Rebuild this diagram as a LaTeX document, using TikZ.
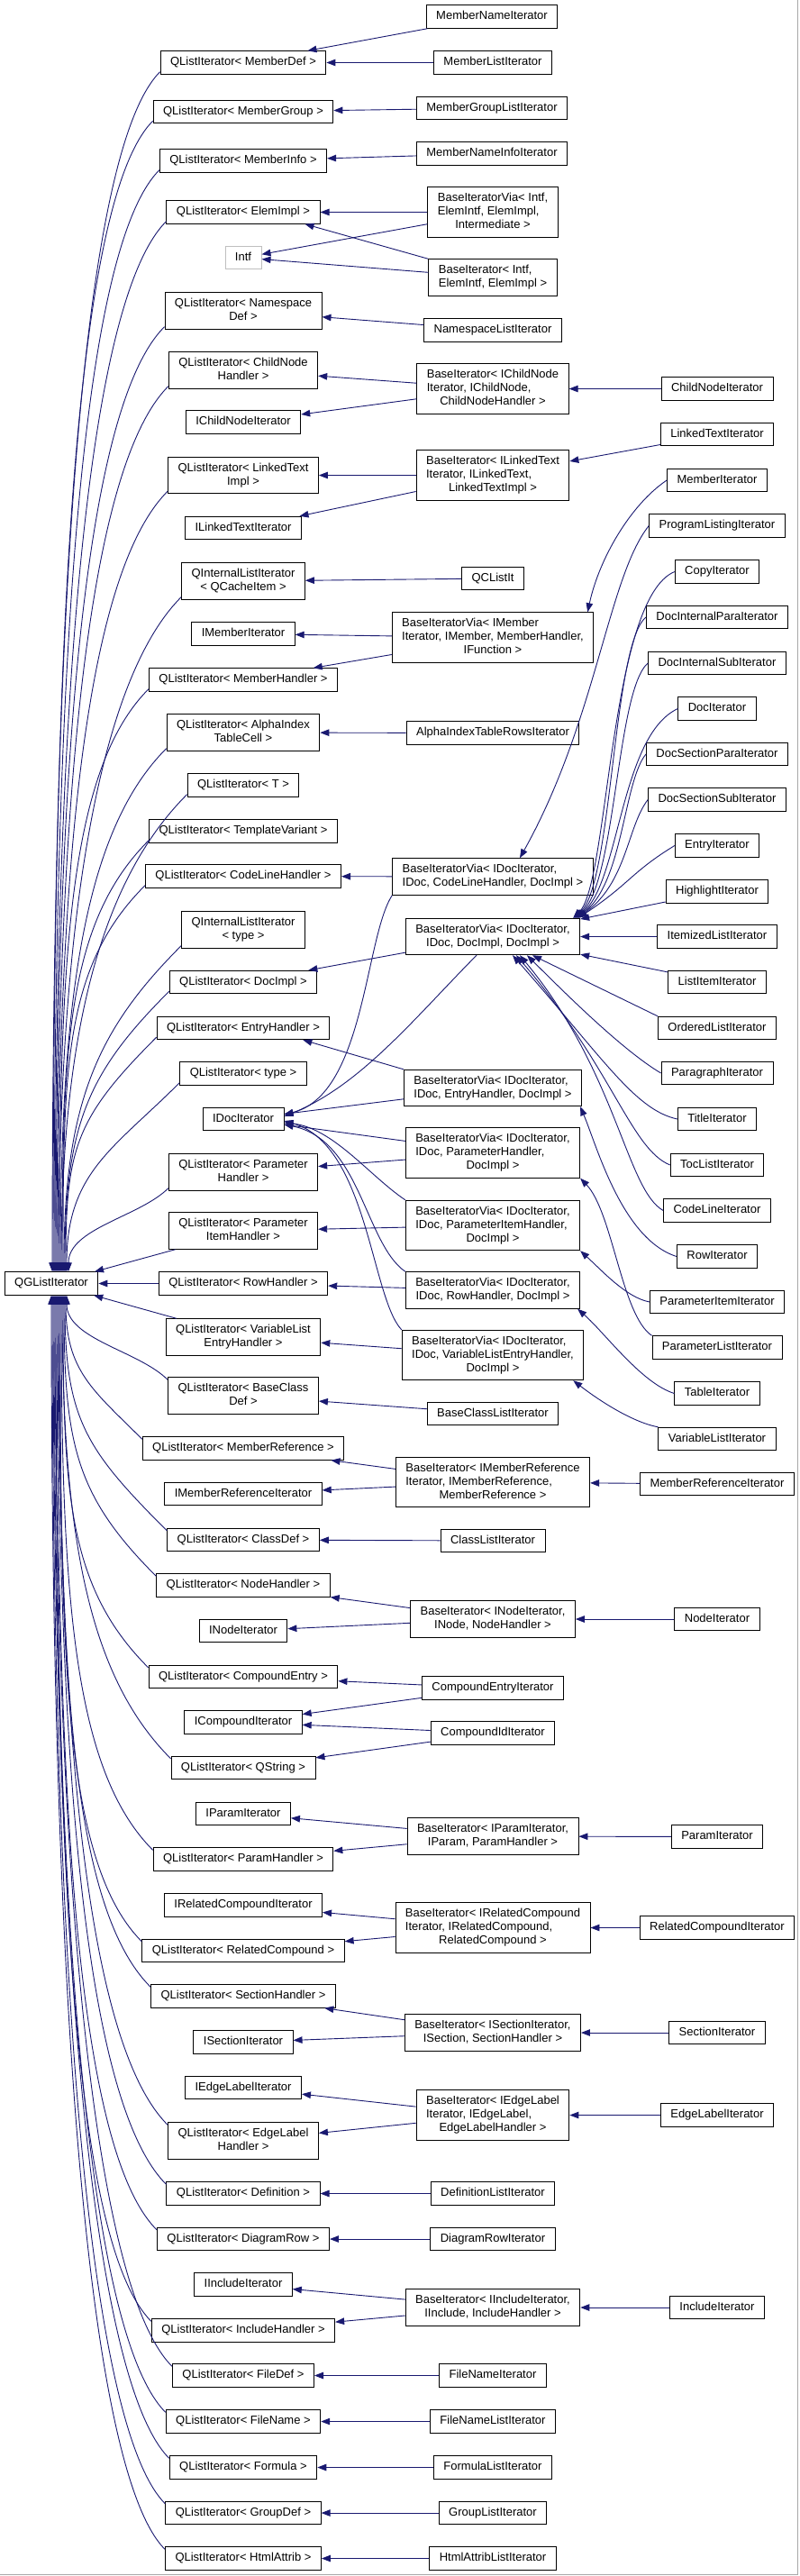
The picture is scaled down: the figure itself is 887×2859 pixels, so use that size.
\documentclass[tikz,border=0pt]{standalone}
\usepackage{fontspec}
\setmainfont{Liberation Sans}
\usepackage{xcolor}
\usepackage{tikz}
\usetikzlibrary{arrows.meta,calc}
\definecolor{EDGE}{HTML}{191970}
\definecolor{GHOST}{HTML}{BFBFBF}
\definecolor{FRAME}{HTML}{A8A8A8}

% wrapped label: first lines flush left, last line centred
\newcommand\wrapl[2]{\begin{tabular}{@{}l@{}}#1\\\multicolumn{1}{@{}c@{}}{#2}\end{tabular}}

\begin{document}
\begin{tikzpicture}[
  x=1pt, y=1pt,
  font=\fontsize{13}{15}\selectfont,
  box/.style={draw=black, line width=0.9pt, fill=white, inner xsep=11pt, inner ysep=5.25pt},
  cls/.style={box, text height=10.5pt, text depth=4.5pt},
  clsm/.style={box},
  ghost/.style={cls, draw=GHOST},
  edge/.style={draw=EDGE, line width=0.9pt, -{Triangle[length=10pt, width=7.5pt]}},
]
\useasboundingbox (0,0) rectangle (887,-2859);
\draw[FRAME, line width=1.5pt] (885.5,0) -- (885.5,-2857.5) -- (0,-2857.5);

% root
\node[cls] (qg) at (57,-1424.5) {QGListIterator};

% first column: list templates and interfaces
\node[cls] (qMemberDef) at (270,-69.5) {QListIterator< MemberDef >};
\node[cls] (qMemberGroup) at (270,-124) {QListIterator< MemberGroup >};
\node[cls] (qMemberInfo) at (270,-178.5) {QListIterator< MemberInfo >};
\node[cls] (qElemImpl) at (270,-235.5) {QListIterator< ElemImpl >};
\node[ghost] (intf) at (270,-286) {Intf};
\node[clsm] (qNamespace) at (270,-345) {\wrapl{QListIterator< Namespace}{Def >}};
\node[clsm] (qChildNode) at (270,-411) {\wrapl{QListIterator< ChildNode}{Handler >}};
\node[cls] (iChildNode) at (270,-468.5) {IChildNodeIterator};
\node[clsm] (qLinkedText) at (270,-527.5) {\wrapl{QListIterator< LinkedText}{Impl >}};
\node[cls] (iLinkedText) at (270,-586) {ILinkedTextIterator};
\node[clsm] (qiCache) at (270,-645) {\wrapl{QInternalListIterator}{< QCacheItem >}};
\node[cls] (iMember) at (270,-703.5) {IMemberIterator};
\node[cls] (qMemberHandler) at (270,-754.5) {QListIterator< MemberHandler >};
\node[clsm] (qAlpha) at (270,-813) {\wrapl{QListIterator< AlphaIndex}{TableCell >}};
\node[cls] (qT) at (270,-871.5) {QListIterator< T >};
\node[cls] (qTemplate) at (270,-922.5) {QListIterator< TemplateVariant >};
\node[cls] (qCodeLine) at (270,-972.5) {QListIterator< CodeLineHandler >};
\node[clsm] (qiType) at (270,-1032) {\wrapl{QInternalListIterator}{< type >}};
\node[cls] (qDocImpl) at (270,-1090) {QListIterator< DocImpl >};
\node[cls] (qEntry) at (270,-1141) {QListIterator< EntryHandler >};
\node[cls] (qType) at (270,-1191.5) {QListIterator< type >};
\node[cls] (iDoc) at (270,-1242) {IDocIterator};
\node[clsm] (qParam) at (270,-1301) {\wrapl{QListIterator< Parameter}{Handler >}};
\node[clsm] (qParamItem) at (270,-1366) {\wrapl{QListIterator< Parameter}{ItemHandler >}};
\node[cls] (qRow) at (270,-1424.5) {QListIterator< RowHandler >};
\node[clsm] (qVarList) at (270,-1484) {\wrapl{QListIterator< VariableList}{EntryHandler >}};
\node[clsm] (qBaseClass) at (270,-1549) {\wrapl{QListIterator< BaseClass}{Def >}};
\node[cls] (qMemberRef) at (270,-1607.5) {QListIterator< MemberReference >};
\node[cls] (iMemberRef) at (270,-1658) {IMemberReferenceIterator};
\node[cls] (qClassDef) at (270,-1709) {QListIterator< ClassDef >};
\node[cls] (qNodeHandler) at (270,-1759.5) {QListIterator< NodeHandler >};
\node[cls] (iNode) at (270,-1810) {INodeIterator};
\node[cls] (qCompound) at (270,-1861) {QListIterator< CompoundEntry >};
\node[cls] (iCompound) at (270,-1911.5) {ICompoundIterator};
\node[cls] (qQString) at (270,-1962) {QListIterator< QString >};
\node[cls] (iParam) at (270,-2013) {IParamIterator};
\node[cls] (qParamHandler) at (270,-2063.5) {QListIterator< ParamHandler >};
\node[cls] (iRelated) at (270,-2114.5) {IRelatedCompoundIterator};
\node[cls] (qRelated) at (270,-2165) {QListIterator< RelatedCompound >};
\node[cls] (qSection) at (270,-2215.5) {QListIterator< SectionHandler >};
\node[cls] (iSection) at (270,-2266.5) {ISectionIterator};
\node[cls] (iEdge) at (270,-2317) {IEdgeLabelIterator};
\node[clsm] (qEdge) at (270,-2376) {\wrapl{QListIterator< EdgeLabel}{Handler >}};
\node[cls] (qDefinition) at (270,-2434.5) {QListIterator< Definition >};
\node[cls] (qDiagram) at (270,-2485) {QListIterator< DiagramRow >};
\node[cls] (iInclude) at (270,-2535.5) {IIncludeIterator};
\node[cls] (qInclude) at (270,-2586.5) {QListIterator< IncludeHandler >};
\node[cls] (qFileDef) at (270,-2636.5) {QListIterator< FileDef >};
\node[cls] (qFileName) at (270,-2687.5) {QListIterator< FileName >};
\node[cls] (qFormula) at (270,-2738.5) {QListIterator< Formula >};
\node[cls] (qGroupDef) at (270,-2789) {QListIterator< GroupDef >};
\node[cls] (qHtml) at (270,-2839.5) {QListIterator< HtmlAttrib >};

% second column: iterator bases and leaf iterators
\node[cls] (memberName) at (546,-18.5) {MemberNameIterator};
\node[cls] (memberList) at (547,-69.5) {MemberListIterator};
\node[cls] (memberGroupList) at (546,-120) {MemberGroupListIterator};
\node[cls] (memberNameInfo) at (546,-170.5) {MemberNameInfoIterator};
\node[clsm] (bivIntf) at (547,-235.5) {\wrapl{BaseIteratorVia< Intf,\\ElemIntf, ElemImpl,}{Intermediate >}};
\node[clsm] (biIntf) at (547,-308) {\wrapl{BaseIterator< Intf,}{ElemIntf, ElemImpl >}};
\node[cls] (namespaceList) at (547,-366.5) {NamespaceListIterator};
\node[clsm] (biChild) at (547,-431.5) {\wrapl{BaseIterator< IChildNode\\Iterator, IChildNode,}{ChildNodeHandler >}};
\node[clsm] (biLinked) at (547,-527.5) {\wrapl{BaseIterator< ILinkedText\\Iterator, ILinkedText,}{LinkedTextImpl >}};
\node[cls] (qcListIt) at (547,-642) {QCListIt};
\node[clsm] (bivMember) at (547,-707.5) {\wrapl{BaseIteratorVia< IMember\\Iterator, IMember, MemberHandler,}{IFunction >}};
\node[cls] (alphaRows) at (547,-813.5) {AlphaIndexTableRowsIterator};
\node[clsm] (bivCodeLine) at (547,-973) {\wrapl{BaseIteratorVia< IDocIterator,}{IDoc, CodeLineHandler, DocImpl >}};
\node[clsm] (bivDoc) at (547,-1039.5) {\wrapl{BaseIteratorVia< IDocIterator,}{IDoc, DocImpl, DocImpl >}};
\node[clsm] (bivEntry) at (547,-1207.5) {\wrapl{BaseIteratorVia< IDocIterator,}{IDoc, EntryHandler, DocImpl >}};
\node[clsm] (bivParam) at (547,-1279.5) {\wrapl{BaseIteratorVia< IDocIterator,\\IDoc, ParameterHandler,}{DocImpl >}};
\node[clsm] (bivParamItem) at (547,-1360) {\wrapl{BaseIteratorVia< IDocIterator,\\IDoc, ParameterItemHandler,}{DocImpl >}};
\node[clsm] (bivRow) at (547,-1432) {\wrapl{BaseIteratorVia< IDocIterator,}{IDoc, RowHandler, DocImpl >}};
\node[clsm] (bivVarList) at (547,-1504) {\wrapl{BaseIteratorVia< IDocIterator,\\IDoc, VariableListEntryHandler,}{DocImpl >}};
\node[cls] (baseClassList) at (547,-1569) {BaseClassListIterator};
\node[clsm] (biMemberRef) at (547,-1645) {\wrapl{BaseIterator< IMemberReference\\Iterator, IMemberReference,}{MemberReference >}};
\node[cls] (classList) at (547,-1710) {ClassListIterator};
\node[clsm] (biNode) at (547,-1797) {\wrapl{BaseIterator< INodeIterator,}{INode, NodeHandler >}};
\node[cls] (compoundEntry) at (547,-1873.5) {CompoundEntryIterator};
\node[cls] (compoundId) at (547,-1923.5) {CompoundIdIterator};
\node[clsm] (biParam) at (547,-2038) {\wrapl{BaseIterator< IParamIterator,}{IParam, ParamHandler >}};
\node[clsm] (biRelated) at (547,-2139.5) {\wrapl{BaseIterator< IRelatedCompound\\Iterator, IRelatedCompound,}{RelatedCompound >}};
\node[clsm] (biSection) at (547,-2256) {\wrapl{BaseIterator< ISectionIterator,}{ISection, SectionHandler >}};
\node[clsm] (biEdge) at (547,-2347.5) {\wrapl{BaseIterator< IEdgeLabel\\Iterator, IEdgeLabel,}{EdgeLabelHandler >}};
\node[cls] (definitionList) at (547,-2434.5) {DefinitionListIterator};
\node[cls] (diagramRow) at (547,-2485) {DiagramRowIterator};
\node[clsm] (biInclude) at (547,-2561) {\wrapl{BaseIterator< IIncludeIterator,}{IInclude, IncludeHandler >}};
\node[cls] (fileName) at (547,-2636.5) {FileNameIterator};
\node[cls] (fileNameList) at (547,-2687.5) {FileNameListIterator};
\node[cls] (formulaList) at (547,-2738.5) {FormulaListIterator};
\node[cls] (groupList) at (547,-2789) {GroupListIterator};
\node[cls] (htmlAttribList) at (547,-2839.5) {HtmlAttribListIterator};

% third column
\node[cls] (childNodeIt) at (796,-431.5) {ChildNodeIterator};
\node[cls] (linkedTextIt) at (796,-482) {LinkedTextIterator};
\node[cls] (memberIt) at (796,-533) {MemberIterator};
\node[cls] (programListing) at (796,-583.5) {ProgramListingIterator};
\node[cls] (copyIt) at (796,-634.5) {CopyIterator};
\node[cls] (docInternalPara) at (796,-685) {DocInternalParaIterator};
\node[cls] (docInternalSub) at (796,-736) {DocInternalSubIterator};
\node[cls] (docIt) at (796,-786.5) {DocIterator};
\node[cls] (docSectionPara) at (796,-837) {DocSectionParaIterator};
\node[cls] (docSectionSub) at (796,-887.5) {DocSectionSubIterator};
\node[cls] (entryIt) at (796,-938.5) {EntryIterator};
\node[cls] (highlightIt) at (796,-989.5) {HighlightIterator};
\node[cls] (itemizedList) at (796,-1039.5) {ItemizedListIterator};
\node[cls] (listItem) at (796,-1090) {ListItemIterator};
\node[cls] (orderedList) at (796,-1141) {OrderedListIterator};
\node[cls] (paragraphIt) at (796,-1191) {ParagraphIterator};
\node[cls] (titleIt) at (796,-1242) {TitleIterator};
\node[cls] (tocList) at (796,-1293) {TocListIterator};
\node[cls] (codeLineIt) at (796,-1343.5) {CodeLineIterator};
\node[cls] (rowIt) at (796,-1394.5) {RowIterator};
\node[cls] (paramItemIt) at (796,-1445) {ParameterItemIterator};
\node[cls] (paramListIt) at (796,-1495.5) {ParameterListIterator};
\node[cls] (tableIt) at (796,-1546.5) {TableIterator};
\node[cls] (varListIt) at (796,-1597) {VariableListIterator};
\node[cls] (memberRefIt) at (796,-1647) {MemberReferenceIterator};
\node[cls] (nodeIt) at (796,-1797) {NodeIterator};
\node[cls] (paramIt) at (796,-2038.5) {ParamIterator};
\node[cls] (relatedIt) at (796,-2139.5) {RelatedCompoundIterator};
\node[cls] (sectionIt) at (796,-2256) {SectionIterator};
\node[cls] (edgeLabelIt) at (796,-2347.5) {EdgeLabelIterator};
\node[cls] (includeIt) at (796,-2561) {IncludeIterator};

% straight inheritance arrows (child/parent)
\foreach \a/\b in {memberName/qMemberDef, memberList/qMemberDef, memberGroupList/qMemberGroup,
    memberNameInfo/qMemberInfo, bivIntf/qElemImpl, bivIntf/intf, biIntf/intf,
    namespaceList/qNamespace, biChild/qChildNode, biChild/iChildNode, childNodeIt/biChild,
    biLinked/qLinkedText, biLinked/iLinkedText, linkedTextIt/biLinked, qcListIt/qiCache,
    bivMember/iMember, bivMember/qMemberHandler, alphaRows/qAlpha, bivCodeLine/qCodeLine,
    bivDoc/qDocImpl, highlightIt/bivDoc, itemizedList/bivDoc, listItem/bivDoc,
    bivEntry/iDoc, bivParam/iDoc, bivParam/qParam, bivParamItem/qParamItem, bivRow/qRow,
    qRow/qg, qParamItem/qg, qVarList/qg, bivVarList/qVarList, baseClassList/qBaseClass,
    biMemberRef/qMemberRef, biMemberRef/iMemberRef, memberRefIt/biMemberRef,
    classList/qClassDef, biNode/qNodeHandler, biNode/iNode, nodeIt/biNode,
    compoundEntry/qCompound, compoundEntry/iCompound, compoundId/iCompound, compoundId/qQString,
    biParam/iParam, biParam/qParamHandler, paramIt/biParam,
    biRelated/iRelated, biRelated/qRelated, relatedIt/biRelated,
    biSection/qSection, biSection/iSection, sectionIt/biSection,
    biEdge/iEdge, biEdge/qEdge, edgeLabelIt/biEdge,
    definitionList/qDefinition, diagramRow/qDiagram,
    biInclude/iInclude, biInclude/qInclude, includeIt/biInclude,
    fileName/qFileDef, fileNameList/qFileName, formulaList/qFormula,
    groupList/qGroupDef, htmlAttribList/qHtml}
  \draw[edge] (\a) -- (\b);

\draw[edge] (biIntf.north west) -- ($(qElemImpl.south east)+(-17,0)$);
\draw[edge] (bivEntry.north west) -- ($(qEntry.south east)+(-30,0)$);
\draw[edge] (orderedList.north west) -- ($(bivDoc.south)+(44,0)$);

% curved arrows on the right
\draw[edge] (memberIt.west) .. controls (700,-560) and (665,-620) .. ($(bivMember.north east)+(-7,0)$);
\draw[edge] (programListing.west) .. controls (675,-640) and (662,-800) .. ($(bivCodeLine.north)+(30,0)$);
\foreach \c/\yc/\bx/\tx in {copyIt/634.5/676/-8, docInternalPara/685/680/-7, docInternalSub/736/684/-6,
    docIt/786.5/688/-5, docSectionPara/837/692/-4, docSectionSub/887.5/696/-3, entryIt/938.5/700/-2}
  \draw[edge] (\c.west) .. controls (\bx,{-\yc-30}) and (\bx,-980) .. ($(bivDoc.north east)+(\tx,0)$);
\draw[edge] (paragraphIt.west) .. controls (690,-1165) and (625,-1100) .. ($(bivDoc.south)+(38,0)$);
\draw[edge] (titleIt.west) .. controls (705,-1232) and (670,-1175) .. ($(bivDoc.south)+(22,0)$);
\draw[edge] (tocList.west) .. controls (700,-1275) and (680,-1185) .. ($(bivDoc.south)+(26,0)$);
\draw[edge] (codeLineIt.west) .. controls (695,-1320) and (685,-1190) .. ($(bivDoc.south)+(30,0)$);
\draw[edge] (rowIt.west) .. controls (690,-1375) and (662,-1270) .. ($(bivEntry.south east)+(-2,0)$);
\draw[edge] (paramListIt.north west) .. controls (690,-1460) and (680,-1345) .. (bivParam.south east);
\draw[edge] (paramItemIt.west) .. controls (695,-1440) and (668,-1410) .. (bivParamItem.south east);
\draw[edge] (tableIt.west) .. controls (712,-1535) and (672,-1480) .. ($(bivRow.south east)+(-3,0)$);
\draw[edge] (varListIt.north west) .. controls (700,-1578) and (662,-1552) .. ($(bivVarList.south east)+(-12,0)$);

% into IDocIterator
\draw[edge] (bivCodeLine.south west) .. controls (405,-1040) and (405,-1215) .. ($(iDoc.east)+(0,5)$);
\draw[edge] ($(bivDoc.south)+(-18,0)$) .. controls (460,-1130) and (400,-1205) .. ($(iDoc.east)+(0,3)$);
\draw[edge] (bivParamItem.north west) .. controls (410,-1305) and (370,-1252) .. ($(iDoc.east)+(0,-4)$);
\draw[edge] (bivRow.north west) .. controls (405,-1380) and (400,-1265) .. ($(iDoc.east)+(0,-6)$);
\draw[edge] (bivVarList.north west) .. controls (412,-1440) and (408,-1270) .. ($(iDoc.east)+(0,-2)$);

% list templates down to QGListIterator
\foreach \nm/\dd/\ex in {qMemberDef/1330/1, qMemberGroup/1276/2, qMemberInfo/1221/3, qElemImpl/1164/4,
    qNamespace/1047/5, qChildNode/981/6, qLinkedText/864/7, qiCache/747/8, qMemberHandler/645/9,
    qAlpha/579/10, qT/528/11, qTemplate/477/12, qCodeLine/427/13, qiType/360/14, qDocImpl/309/15,
    qEntry/258/16, qType/208/17, qParam/91/19} {
  \pgfmathsetmacro\qs{min(90,0.35*\dd)}
  \pgfmathsetmacro\qh{0.53*\dd}
  \draw[edge] ([yshift=3pt]\nm.south west) .. controls ($(\nm.south west)+(-\qs,3-\qs)$)
    and ($(qg.north)+(\ex,\qh)$) .. ($(qg.north)+(\ex,0)$);
}
\foreach \nm/\dd/\ex in {qBaseClass/92/17, qMemberRef/158/16, qClassDef/259/15, qNodeHandler/310/14,
    qCompound/411/13, qQString/512/12, qParamHandler/614/11, qRelated/715/10, qSection/766/9,
    qEdge/919/8, qDefinition/985/7, qDiagram/1035/6, qInclude/1137/5, qFileDef/1187/4,
    qFileName/1238/3, qFormula/1289/2, qGroupDef/1339/1, qHtml/1390/0} {
  \pgfmathsetmacro\qs{min(90,0.35*\dd)}
  \pgfmathsetmacro\qh{0.53*\dd}
  \draw[edge] ([yshift=-3pt]\nm.north west) .. controls ($(\nm.north west)+(-\qs,\qs-3)$)
    and ($(qg.south)+(\ex,-\qh)$) .. ($(qg.south)+(\ex,0)$);
}

\end{tikzpicture}
\end{document}
